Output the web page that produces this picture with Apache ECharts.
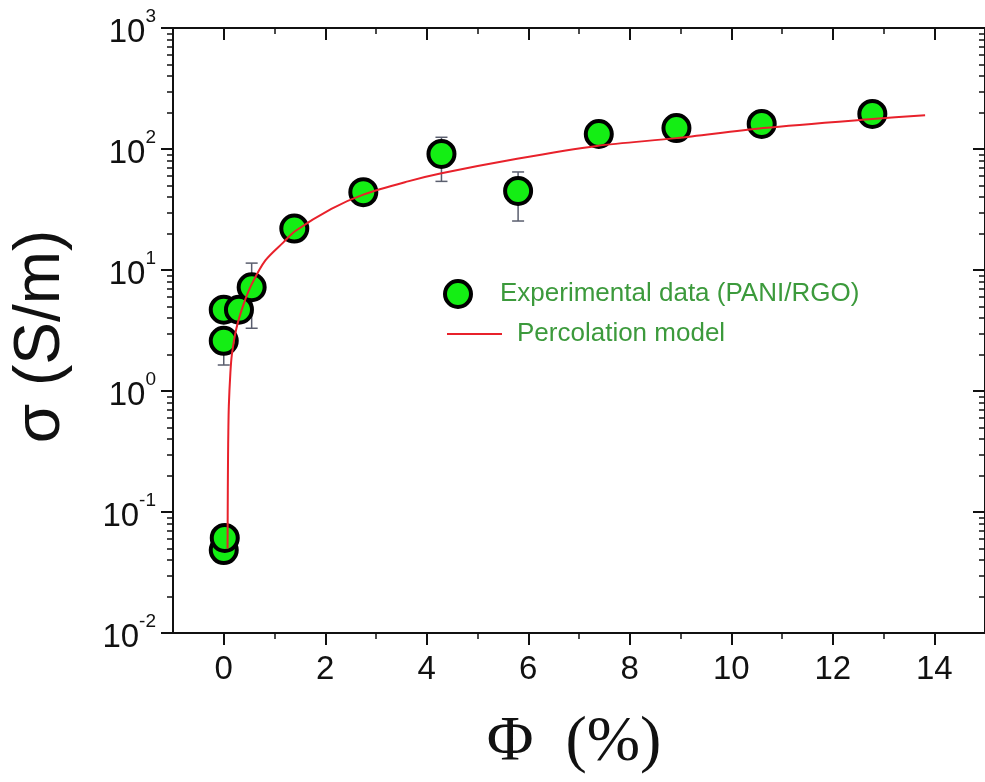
<!DOCTYPE html>
<html>
<head>
<meta charset="utf-8">
<script src="https://cdn.jsdelivr.net/npm/echarts@6/dist/echarts.min.js"></script>
<style>
  html, body { margin: 0; padding: 0; background: #ffffff; }
  #chart { width: 985px; height: 782px; }
</style>
</head>
<body>
<div id="chart"></div>
<script>
// RGO volume fraction (%) and measured conductivity (S/m) of PANI/RGO samples
const phi       = [0.00,  0.02,  0.00, 0.00, 0.30, 0.55, 1.39, 2.75, 4.29, 5.80, 7.39, 8.92, 10.60, 12.78];
const sigma     = [0.0485, 0.061, 2.6, 4.7,  4.7,  7.2,  22,   44,   91,   45,   133,  149,  161,   195];
const sigmaLow  = [0.045, 0.056, 1.64, 4.3,  4.3,  3.3,  20,   40,   54,   25.4, 120,  118,  145,   175];
const sigmaHigh = [0.053, 0.067, 3.1,  5.2,  5.2,  11.4, 24.5, 49,   125,  64.6, 148,  170,  180,   222];

// Percolation model curve
const modelPhi   = [0.075, 0.08, 0.085, 0.09, 0.10, 0.13, 0.16, 0.25, 0.39, 0.55, 0.82, 1.18, 1.41, 2.12, 2.75, 3.63, 4.29, 5.78, 7.35, 8.92, 10.63, 12.78, 13.82];
const modelSigma = [0.05,  0.15, 0.30,  0.45, 0.75, 1.4,  2.0,  3.3,  5.2,  7.6,  12,   17,   21,   32,   42,   54,   63,   83,   106,  123,  149,   177,   190];

// Axis ticks
const xTickValues = [0, 2, 4, 6, 8, 10, 12, 14];
const logDecades = [0.01, 0.1, 1, 10, 100];
const logMinorMultipliers = [2, 3, 4, 5, 6, 7, 8, 9];

const X_MIN = -1, X_MAX = 15, Y_MIN = 0.01, Y_MAX = 1000;
const SANS = "'Liberation Sans', Arial, sans-serif";
const SERIF = "'Liberation Serif', 'Times New Roman', serif";
const INK = '#111111';
const LEGEND_GREEN = '#3c9a3c';

// minor tick positions of the log axis, expressed as decimal exponents
const logMinorExponents = [];
logDecades.forEach(d => logMinorMultipliers.forEach(m => logMinorExponents.push(Math.log10(d * m))));

const chart = echarts.init(document.getElementById('chart'), null, { renderer: 'canvas' });

const axisLine = { show: true, onZero: false, lineStyle: { color: INK, width: 2 } };

// companion linear axis (in decades) carrying the 2..9 minor ticks of the log scale
const minorLogAxis = (position, inside) => ({
  type: 'value', position: position,
  min: Math.log10(Y_MIN), max: Math.log10(Y_MAX), interval: 1,
  axisLine: { show: false, onZero: false },
  axisTick: { show: true, inside: inside, length: 6, customValues: logMinorExponents, lineStyle: { color: INK, width: 1.5 } },
  axisLabel: { show: false },
  splitLine: { show: false }
});

const option = {
  animation: false,
  backgroundColor: '#ffffff',
  grid: { left: 173, top: 28, width: 817, height: 605, containLabel: false },
  legend: [
    {
      data: [{ name: 'Experimental data (PANI/RGO)' }],
      left: 443, top: 279, padding: 0,
      itemWidth: 50, itemHeight: 26,
      selectedMode: false,
      itemStyle: { borderColor: '#000000', borderWidth: 4 },
      textStyle: { fontFamily: SANS, fontSize: 26, color: LEGEND_GREEN, padding: [0, 0, 0, 12] }
    },
    {
      data: [{ name: 'Percolation model', icon: 'path://M0,0 L55,0 L55,2 L0,2 Z' }],
      left: 447, top: 321, padding: 0,
      itemWidth: 55, itemHeight: 14,
      selectedMode: false,
      textStyle: { fontFamily: SANS, fontSize: 26, color: LEGEND_GREEN, padding: [0, 0, 0, 10] }
    }
  ],
  xAxis: [
    {
      type: 'value', position: 'bottom',
      min: X_MIN, max: X_MAX, splitNumber: 8, minInterval: 2, maxInterval: 2,
      axisLine: axisLine,
      axisTick: { show: true, inside: false, length: 12, customValues: xTickValues, lineStyle: { color: INK, width: 2 } },
      minorTick: { show: true, splitNumber: 2, length: 6, lineStyle: { color: INK, width: 1.5 } },
      splitLine: { show: false },
      axisLabel: { show: true, customValues: xTickValues, margin: 20, fontFamily: SANS, fontSize: 33, lineHeight: 33, color: INK },
      name: 'Φ  (%)', nameLocation: 'middle', nameGap: 78,
      nameTextStyle: { fontFamily: SERIF, fontSize: 64, color: INK, padding: [0, 10, 0, 0] }
    },
    {
      type: 'value', position: 'top',
      min: X_MIN, max: X_MAX, splitNumber: 8, minInterval: 2, maxInterval: 2,
      axisLine: axisLine,
      axisTick: { show: true, inside: true, length: 12, customValues: xTickValues, lineStyle: { color: INK, width: 2 } },
      minorTick: { show: true, splitNumber: 2, length: 6, lineStyle: { color: INK, width: 1.5 } },
      splitLine: { show: false },
      axisLabel: { show: false }
    }
  ],
  yAxis: [
    {
      type: 'log', logBase: 10, position: 'left',
      min: Y_MIN, max: Y_MAX, splitNumber: 5,
      axisLine: axisLine,
      axisTick: { show: true, inside: false, length: 12, lineStyle: { color: INK, width: 2 } },
      splitLine: { show: false },
      axisLabel: {
        margin: 17,
        formatter: v => '{b|10}{s|' + Math.round(Math.log10(v)) + '}',
        rich: {
          b: { fontFamily: SANS, fontSize: 33, lineHeight: 42, verticalAlign: 'bottom', color: INK },
          s: { fontFamily: SANS, fontSize: 19, lineHeight: 20, verticalAlign: 'top', color: INK }
        }
      },
      name: 'σ (S/m)', nameLocation: 'middle', nameGap: 100, nameRotate: 90,
      nameTextStyle: { fontFamily: SANS, fontSize: 64, color: INK, padding: [0, 12, 0, 0] }
    },
    {
      type: 'log', logBase: 10, position: 'right',
      min: Y_MIN, max: Y_MAX, splitNumber: 5,
      axisLine: axisLine,
      axisTick: { show: true, inside: true, length: 12, lineStyle: { color: INK, width: 2 } },
      splitLine: { show: false },
      axisLabel: { show: false }
    },
    minorLogAxis('left', false),
    minorLogAxis('right', true)
  ],
  series: [
    {
      // error bars
      type: 'custom',
      name: 'error',
      silent: true,
      xAxisIndex: 0, yAxisIndex: 0,
      data: phi.map((x, i) => [x, sigmaLow[i], sigmaHigh[i]]),
      encode: { x: 0, y: [1, 2] },
      z: 2,
      renderItem: (params, api) => {
        const lo = api.coord([api.value(0), api.value(1)]);
        const hi = api.coord([api.value(0), api.value(2)]);
        const cap = 6;
        const style = { stroke: '#5a5e6e', lineWidth: 1.5 };
        return {
          type: 'group',
          children: [
            { type: 'line', shape: { x1: lo[0], y1: lo[1], x2: hi[0], y2: hi[1] }, style },
            { type: 'line', shape: { x1: lo[0] - cap, y1: lo[1], x2: lo[0] + cap, y2: lo[1] }, style },
            { type: 'line', shape: { x1: hi[0] - cap, y1: hi[1], x2: hi[0] + cap, y2: hi[1] }, style }
          ]
        };
      }
    },
    {
      name: 'Experimental data (PANI/RGO)',
      type: 'scatter',
      xAxisIndex: 0, yAxisIndex: 0,
      data: phi.map((x, i) => [x, sigma[i]]),
      symbol: 'circle',
      symbolSize: 26,
      itemStyle: { color: '#14ee14', borderColor: '#000000', borderWidth: 4, opacity: 1 },
      z: 3
    },
    {
      name: 'Percolation model',
      type: 'line',
      xAxisIndex: 0, yAxisIndex: 0,
      data: modelPhi.map((x, i) => [x, modelSigma[i]]),
      showSymbol: false,
      symbol: 'none',
      smooth: 0.3,
      lineStyle: { color: '#e8212b', width: 2 },
      itemStyle: { color: '#e8212b' },
      z: 4
    }
  ]
};

chart.setOption(option);
</script>
</body>
</html>
